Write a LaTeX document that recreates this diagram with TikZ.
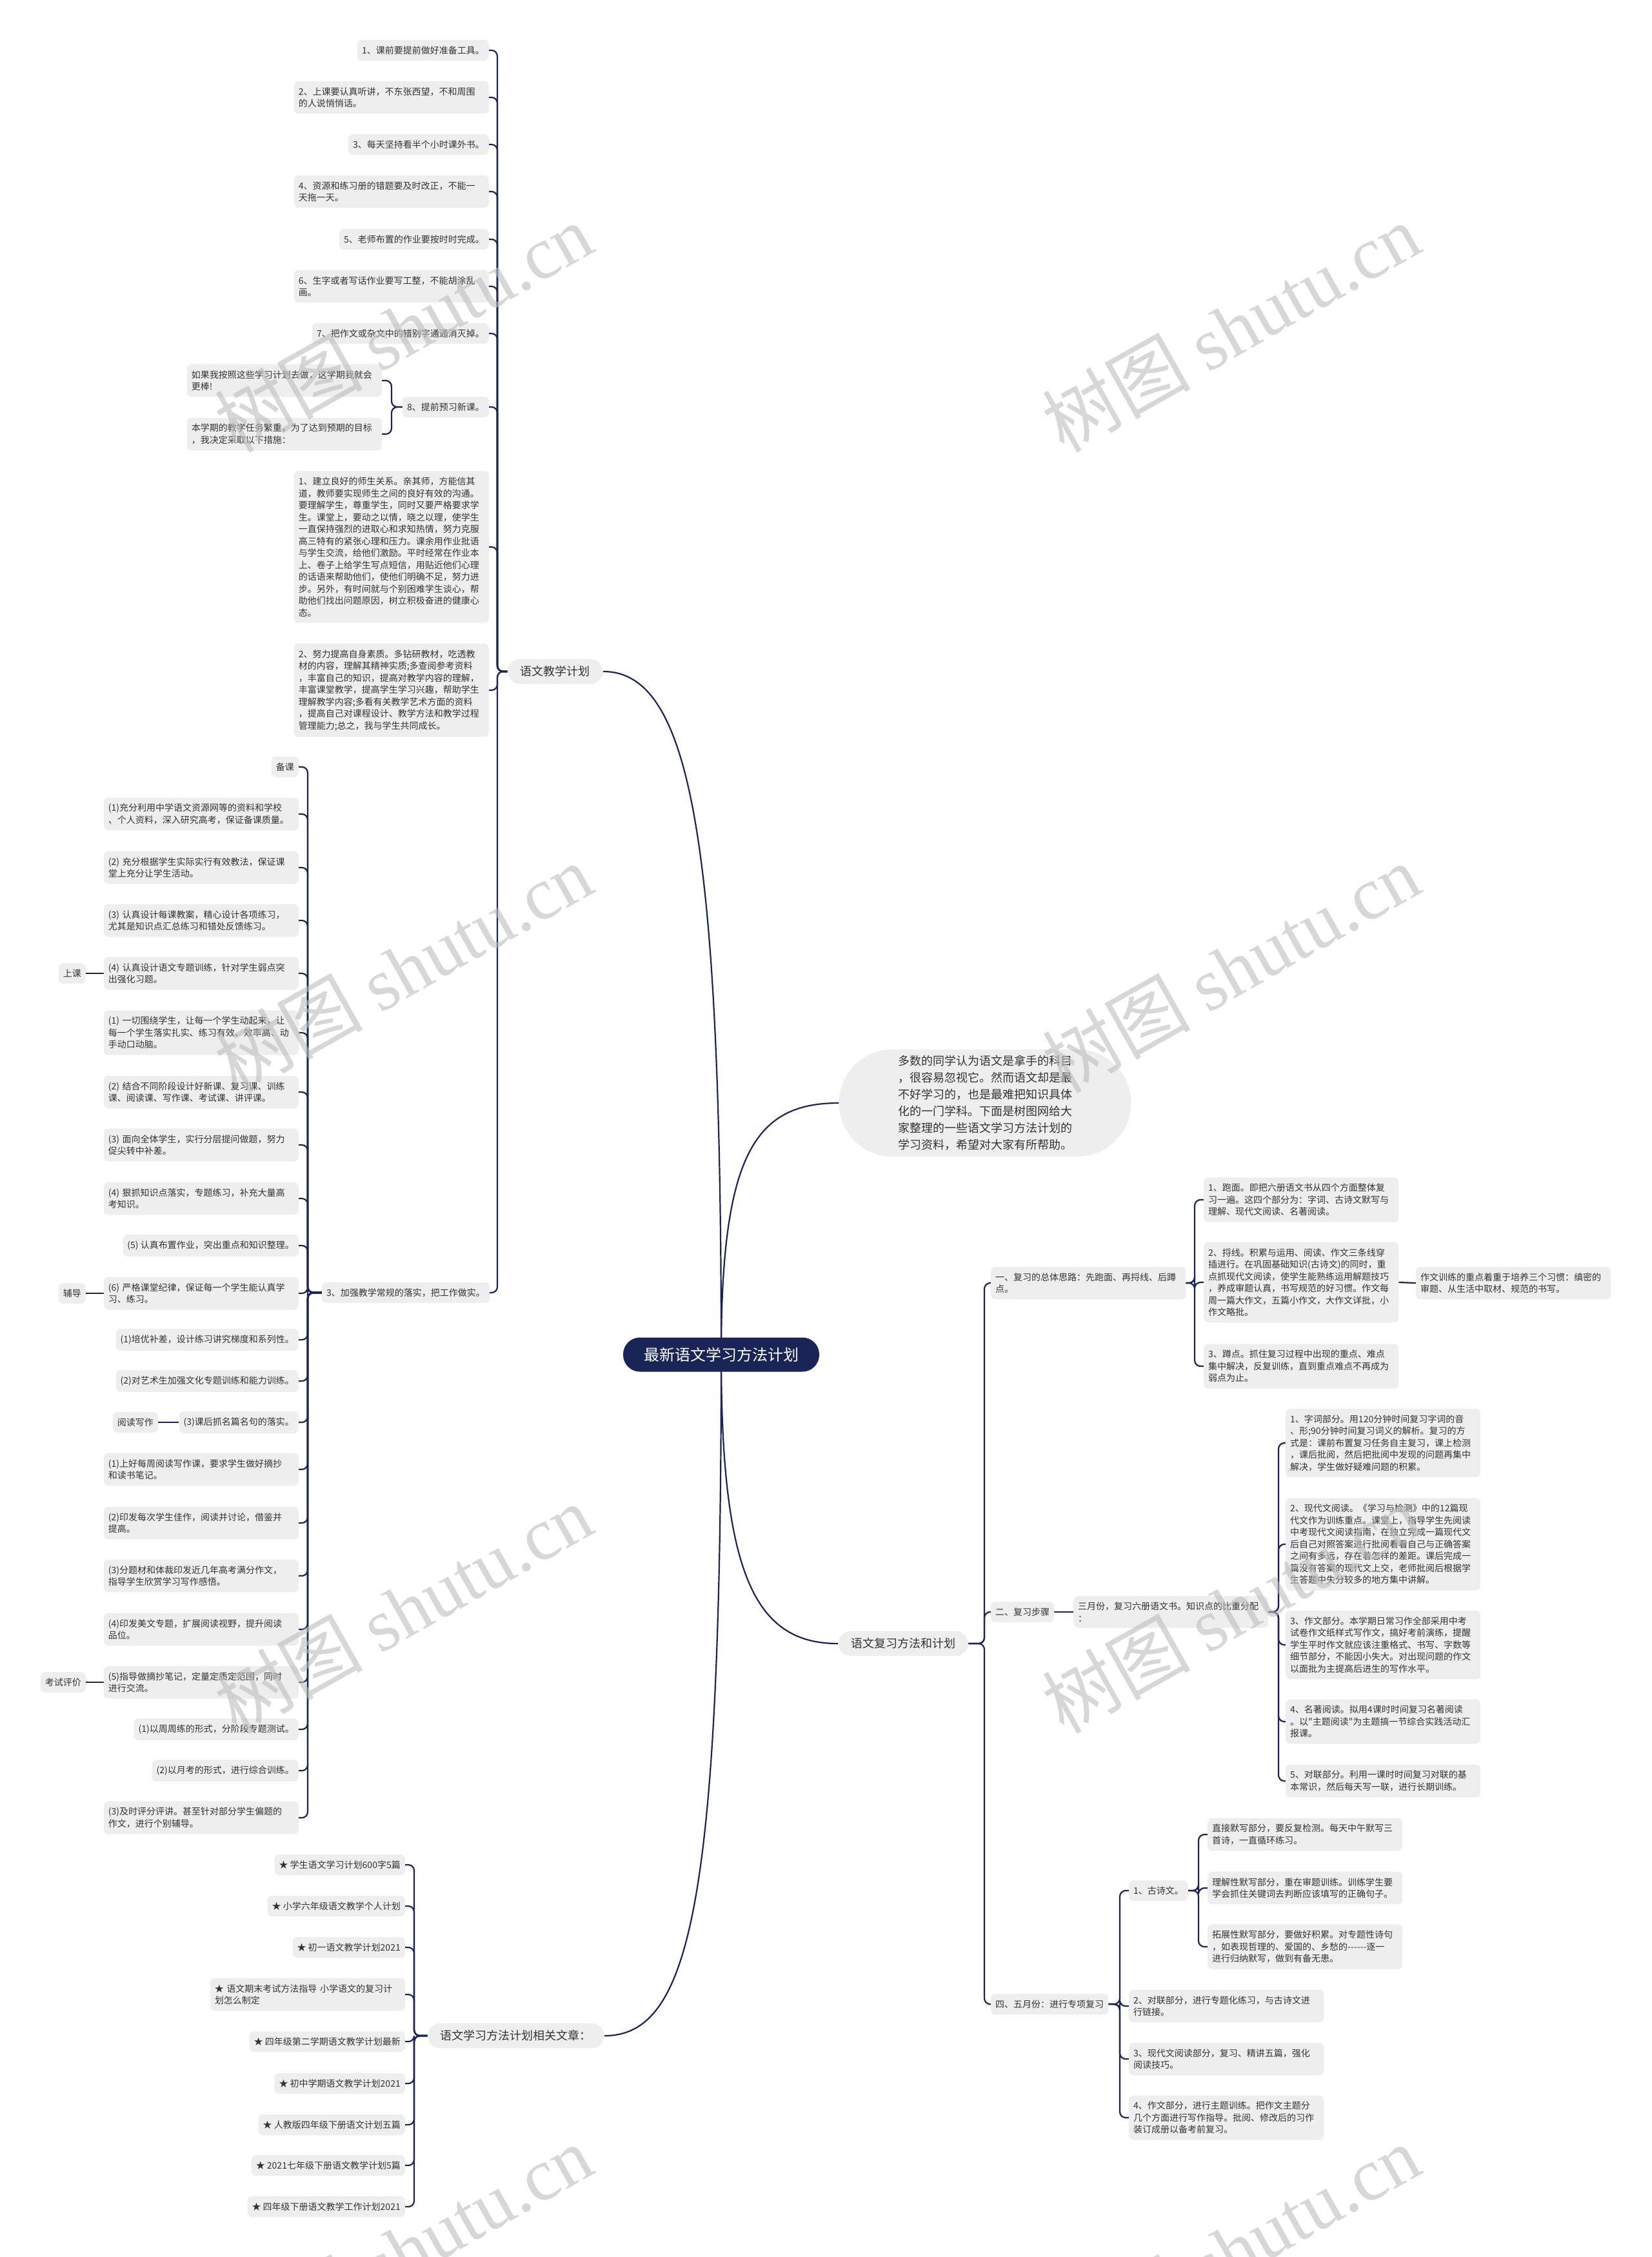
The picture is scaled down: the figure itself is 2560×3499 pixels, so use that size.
\documentclass[tikz,border=0pt]{standalone}
\usepackage{fontspec}
\setmainfont{Noto Sans CJK SC}
\newfontfamily\cjk{Noto Sans CJK SC}
\newfontfamily\wmserif{Liberation Serif}
\pgfdeclarelayer{back}
\pgfdeclarelayer{links}
\pgfsetlayers{back,links,main}
\definecolor{navy}{HTML}{1B2456}
\definecolor{boxg}{HTML}{EEEEEE}
\definecolor{txt}{HTML}{333333}
\definecolor{wm}{HTML}{BDBDBD}
\tikzset{
  leaf/.style={fill=boxg, rounded corners=7pt, inner xsep=7pt, inner ysep=9.5pt,
    font=\cjk\fontsize{14}{18.5}\selectfont, text=txt, align=left},
  wide/.style={leaf, text width=288pt},
  lvl1/.style={fill=boxg, rounded corners=20pt, inner xsep=20pt, inner ysep=11pt,
    font=\cjk\fontsize{18}{24}\selectfont, text=txt},
  conn/.style={draw=navy, line width=2.2pt, rounded corners=9pt},
  wmark/.style={text=wm, opacity=0.6, rotate=29.4, font=\cjk\fontsize{115}{120}\selectfont}
}
\newcommand{\mmlink}[3]{\draw[conn] (#1) -| (#2 |- #3) -- (#3);}
\begin{document}
\begin{tikzpicture}[x=1pt,y=-1pt]
\begin{pgfonlayer}{back}
\fill[white] (0,0) rectangle (2560,3499);
\end{pgfonlayer}
\useasboundingbox (0,0) rectangle (2560,3499);

% root and level 1
\node[fill=navy, text=white, rounded corners=26pt, minimum width=304pt, minimum height=53pt,
  font=\cjk\fontsize{24}{28}\selectfont] (root) at (1118,2100) {最新语文学习方法计划};
\node[lvl1, anchor=east] (lA) at (935,1041) {语文教学计划};
\node[lvl1, anchor=west] (fx) at (1299,2548) {语文复习方法和计划};
\node[lvl1, anchor=east] (art) at (937,3156) {语文学习方法计划相关文章：};
\node[fill=boxg, rounded corners=83pt, minimum width=453pt, minimum height=166pt, align=left,
  font=\cjk\fontsize{18}{26}\selectfont, text=txt] (intro) at (1527,1710)
  {多数的同学认为语文是拿手的科目\\，很容易忽视它。然而语文却是最\\不好学习的，也是最难把知识具体\\化的一门学科。下面是树图网给大\\家整理的一些语文学习方法计划的\\学习资料，希望对大家有所帮助。};

% group A
\node[leaf, anchor=east] (a1) at (758,78) {1、课前要提前做好准备工具。};
\node[wide, anchor=east] (a2) at (758,151) {2、上课要认真听讲，不东张西望，不和周围\\的人说悄悄话。};
\node[leaf, anchor=east] (a3) at (758,224) {3、每天坚持看半个小时课外书。};
\node[wide, anchor=east] (a4) at (758,297) {4、资源和练习册的错题要及时改正，不能一\\天拖一天。};
\node[leaf, anchor=east] (a5) at (758,371) {5、老师布置的作业要按时时完成。};
\node[wide, anchor=east] (a6) at (758,444) {6、生字或者写话作业要写工整，不能胡涂乱\\画。};
\node[leaf, anchor=east] (a7) at (758,517) {7、把作文或杂文中的错别字通通消灭掉。};
\node[leaf, anchor=east] (a8) at (758,631) {8、提前预习新课。};
\node[wide, anchor=east] (a81) at (592,590) {如果我按照这些学习计划去做，这学期我就会\\更棒!};
\node[wide, anchor=east] (a82) at (592,673) {本学期的教学任务繁重，为了达到预期的目标\\，我决定采取以下措施：};
\node[wide, anchor=east] (a9) at (758,848) {1、建立良好的师生关系。亲其师，方能信其\\道，教师要实现师生之间的良好有效的沟通。\\要理解学生，尊重学生，同时又要严格要求学\\生。课堂上，要动之以情，晓之以理，使学生\\一直保持强烈的进取心和求知热情，努力克服\\高三特有的紧张心理和压力。课余用作业批语\\与学生交流，给他们激励。平时经常在作业本\\上、卷子上给学生写点短信，用贴近他们心理\\的话语来帮助他们，使他们明确不足，努力进\\步。另外，有时间就与个别困难学生谈心，帮\\助他们找出问题原因，树立积极奋进的健康心\\态。};
\node[wide, anchor=east] (a10) at (758,1070) {2、努力提高自身素质。多钻研教材，吃透教\\材的内容，理解其精神实质;多查阅参考资料\\，丰富自己的知识，提高对教学内容的理解，\\丰富课堂教学，提高学生学习兴趣，帮助学生\\理解教学内容;多看有关教学艺术方面的资料\\，提高自己对课程设计、教学方法和教学过程\\管理能力;总之，我与学生共同成长。};
\node[leaf, anchor=east] (a11) at (759,2004) {3、加强教学常规的落实，把工作做实。};

% group B
\node[leaf, anchor=east] (b1) at (463,1189) {备课};
\node[wide, anchor=east] (b2) at (463,1262) {(1)充分利用中学语文资源网等的资料和学校\\、个人资料，深入研究高考，保证备课质量。};
\node[wide, anchor=east] (b3) at (463,1345) {(2) 充分根据学生实际实行有效教法，保证课\\堂上充分让学生活动。};
\node[wide, anchor=east] (b4) at (463,1427) {(3) 认真设计每课教案，精心设计各项练习，\\尤其是知识点汇总练习和错处反馈练习。};
\node[wide, anchor=east] (b5) at (463,1509) {(4) 认真设计语文专题训练，针对学生弱点突\\出强化习题。};
\node[wide, anchor=east] (b6) at (463,1601) {(1) 一切围绕学生，让每一个学生动起来，让\\每一个学生落实扎实、练习有效、效率高、动\\手动口动脑。};
\node[wide, anchor=east] (b7) at (463,1693) {(2) 结合不同阶段设计好新课、复习课、训练\\课、阅读课、写作课、考试课、讲评课。};
\node[wide, anchor=east] (b8) at (463,1775) {(3) 面向全体学生，实行分层提问做题，努力\\促尖转中补差。};
\node[wide, anchor=east] (b9) at (463,1858) {(4) 狠抓知识点落实，专题练习，补充大量高\\考知识。};
\node[leaf, anchor=east] (b10) at (463,1931) {(5) 认真布置作业，突出重点和知识整理。};
\node[wide, anchor=east] (b11) at (463,2005) {(6) 严格课堂纪律，保证每一个学生能认真学\\习、练习。};
\node[leaf, anchor=east] (b12) at (463,2077) {(1)培优补差，设计练习讲究梯度和系列性。};
\node[leaf, anchor=east] (b13) at (463,2141) {(2)对艺术生加强文化专题训练和能力训练。};
\node[leaf, anchor=east] (b14) at (463,2205) {(3)课后抓名篇名句的落实。};
\node[wide, anchor=east] (b15) at (463,2278) {(1)上好每周阅读写作课，要求学生做好摘抄\\和读书笔记。};
\node[wide, anchor=east] (b16) at (463,2361) {(2)印发每次学生佳作，阅读并讨论，借鉴并\\提高。};
\node[wide, anchor=east] (b17) at (463,2443) {(3)分题材和体裁印发近几年高考满分作文，\\指导学生欣赏学习写作感悟。};
\node[wide, anchor=east] (b18) at (463,2526) {(4)印发美文专题，扩展阅读视野，提升阅读\\品位。};
\node[wide, anchor=east] (b19) at (463,2608) {(5)指导做摘抄笔记，定量定质定范围，同时\\进行交流。};
\node[leaf, anchor=east] (b20) at (463,2681) {(1)以周周练的形式，分阶段专题测试。};
\node[leaf, anchor=east] (b21) at (463,2745) {(2)以月考的形式，进行综合训练。};
\node[wide, anchor=east] (b22) at (463,2818) {(3)及时评分评讲。甚至针对部分学生偏题的\\作文，进行个别辅导。};
\node[leaf, anchor=east] (sk) at (133,1509) {上课};
\node[leaf, anchor=east] (fd) at (133,2005) {辅导};
\node[leaf, anchor=east] (ydxz) at (245,2205) {阅读写作};
\node[leaf, anchor=east] (kspj) at (133,2608) {考试评价};

% group C
\node[leaf, anchor=east] (c1) at (628,2891) {★ 学生语文学习计划600字5篇};
\node[leaf, anchor=east] (c2) at (628,2955) {★ 小学六年级语文教学个人计划};
\node[leaf, anchor=east] (c3) at (628,3019) {★ 初一语文教学计划2021};
\node[wide, anchor=east] (c4) at (628,3092) {★ 语文期末考试方法指导 小学语文的复习计\\划怎么制定};
\node[leaf, anchor=east] (c5) at (628,3165) {★ 四年级第二学期语文教学计划最新};
\node[leaf, anchor=east] (c6) at (628,3230) {★ 初中学期语文教学计划2021};
\node[leaf, anchor=east] (c7) at (628,3294) {★ 人教版四年级下册语文计划五篇};
\node[leaf, anchor=east] (c8) at (628,3357) {★ 2021七年级下册语文教学计划5篇};
\node[leaf, anchor=east] (c9) at (628,3421) {★ 四年级下册语文教学工作计划2021};

% group D
\node[wide, anchor=west] (d1) at (1536,1989) {一、复习的总体思路：先跑面、再捋线、后蹲\\点。};
\node[wide, anchor=west] (d11) at (1866,1860) {1、跑面。即把六册语文书从四个方面整体复\\习一遍。这四个部分为：字词、古诗文默写与\\理解、现代文阅读、名著阅读。};
\node[wide, anchor=west] (d12) at (1866,1988) {2、捋线。积累与运用、阅读、作文三条线穿\\插进行。在巩固基础知识(古诗文)的同时，重\\点抓现代文阅读，使学生能熟练运用解题技巧\\，养成审题认真，书写规范的好习惯。作文每\\周一篇大作文，五篇小作文，大作文详批，小\\作文略批。};
\node[wide, anchor=west] (d121) at (2195,1989) {作文训练的重点着重于培养三个习惯：缜密的\\审题、从生活中取材、规范的书写。};
\node[wide, anchor=west] (d13) at (1866,2118) {3、蹲点。抓住复习过程中出现的重点、难点\\集中解决，反复训练，直到重点难点不再成为\\弱点为止。};
\node[leaf, anchor=west] (d2) at (1536,2499) {二、复习步骤};
\node[wide, anchor=west] (d21) at (1664,2499) {三月份，复习六册语文书。知识点的比重分配\\：};
\node[wide, anchor=west] (d211) at (1993,2237) {1、字词部分。用120分钟时间复习字词的音\\、形;90分钟时间复习词义的解析。复习的方\\式是：课前布置复习任务自主复习，课上检测\\，课后批阅，然后把批阅中发现的问题再集中\\解决，学生做好疑难问题的积累。};
\node[wide, anchor=west] (d212) at (1993,2394) {2、现代文阅读。《学习与检测》中的12篇现\\代文作为训练重点。课堂上，指导学生先阅读\\中考现代文阅读指南，在独立完成一篇现代文\\后自己对照答案进行批阅看看自己与正确答案\\之间有多远，存在着怎样的差距。课后完成一\\篇没有答案的现代文上交，老师批阅后根据学\\生答题中失分较多的地方集中讲解。};
\node[wide, anchor=west] (d213) at (1993,2550) {3、作文部分。本学期日常习作全部采用中考\\试卷作文纸样式写作文，搞好考前演练，提醒\\学生平时作文就应该注重格式、书写、字数等\\细节部分，不能因小失大。对出现问题的作文\\以面批为主提高后进生的写作水平。};
\node[wide, anchor=west] (d214) at (1993,2669) {4、名著阅读。拟用4课时时间复习名著阅读\\。以"主题阅读"为主题搞一节综合实践活动汇\\报课。};
\node[wide, anchor=west] (d215) at (1993,2761) {5、对联部分。利用一课时时间复习对联的基\\本常识，然后每天写一联，进行长期训练。};
\node[leaf, anchor=west] (d3) at (1536,3107) {四、五月份：进行专项复习};
\node[leaf, anchor=west] (d31) at (1750,2931) {1、古诗文。};
\node[wide, anchor=west] (d311) at (1872,2844) {直接默写部分，要反复检测。每天中午默写三\\首诗，一直循环练习。};
\node[wide, anchor=west] (d312) at (1872,2927) {理解性默写部分，重在审题训练。训练学生要\\学会抓住关键词去判断应该填写的正确句子。};
\node[wide, anchor=west] (d313) at (1872,3018) {拓展性默写部分，要做好积累。对专题性诗句\\，如表现哲理的、爱国的、乡愁的-\kern0pt-\kern0pt-\kern0pt-\kern0pt-\kern0pt-逐一\\进行归纳默写，做到有备无患。};
\node[wide, anchor=west] (d32) at (1750,3110) {2、对联部分，进行专题化练习，与古诗文进\\行链接。};
\node[wide, anchor=west] (d33) at (1750,3192) {3、现代文阅读部分，复习、精讲五篇，强化\\阅读技巧。};
\node[wide, anchor=west] (d34) at (1750,3283) {4、作文部分，进行主题训练。把作文主题分\\几个方面进行写作指导。批阅、修改后的习作\\装订成册以备考前复习。};

% bars
\coordinate (bA) at (771,0);
\coordinate (bA8) at (607,0);
\coordinate (bB) at (477,0);
\coordinate (bC) at (642,0);
\coordinate (bD) at (1526,0);
\coordinate (bD1) at (1852,0);
\coordinate (bD2) at (1982,0);
\coordinate (bD3) at (1736,0);
\coordinate (bD31) at (1858,0);

\begin{pgfonlayer}{links}
\draw[conn] (root.center) .. controls (1118,1300) and (1070,1041) .. (lA.east);
\draw[conn] (root.center) .. controls (1118,1790) and (1170,1710) .. (intro.west);
\draw[conn] (root.center) .. controls (1118,2440) and (1170,2548) .. (fx.west);
\draw[conn] (root.center) .. controls (1118,2950) and (1070,3156) .. (art.east);
\foreach \c in {a1,a2,a3,a4,a5,a6,a7,a8,a9,a10,a11} {\mmlink{lA.west}{bA}{\c.east}}
\foreach \c in {a81,a82} {\mmlink{a8.west}{bA8}{\c.east}}
\foreach \c in {b1,b2,b3,b4,b5,b6,b7,b8,b9,b10,b11,b12,b13,b14,b15,b16,b17,b18,b19,b20,b21,b22} {\mmlink{a11.west}{bB}{\c.east}}
\foreach \c in {c1,c2,c3,c4,c5,c6,c7,c8,c9} {\mmlink{art.west}{bC}{\c.east}}
\foreach \c in {d1,d2,d3} {\mmlink{fx.east}{bD}{\c.west}}
\foreach \c in {d11,d12,d13} {\mmlink{d1.east}{bD1}{\c.west}}
\foreach \c in {d211,d212,d213,d214,d215} {\mmlink{d21.east}{bD2}{\c.west}}
\foreach \c in {d31,d32,d33,d34} {\mmlink{d3.east}{bD3}{\c.west}}
\foreach \c in {d311,d312,d313} {\mmlink{d31.east}{bD31}{\c.west}}
\draw[conn] (d12.east) -- (d121.west);
\draw[conn] (d2.east) -- (d21.west);
\draw[conn] (sk.east) -- (b5.west);
\draw[conn] (fd.east) -- (b11.west);
\draw[conn] (ydxz.east) -- (b14.west);
\draw[conn] (kspj.east) -- (b19.west);
\end{pgfonlayer}

% watermarks
\foreach \wy [count=\i] in {508,1501,2494,3487} {
  \node[wmark] (wl\i) at (625,\wy) {树图 {\wmserif shutu.cn}};
  \node[wmark] (wr\i) at (1908,\wy) {树图 {\wmserif shutu.cn}};
}
\end{tikzpicture}
\end{document}
